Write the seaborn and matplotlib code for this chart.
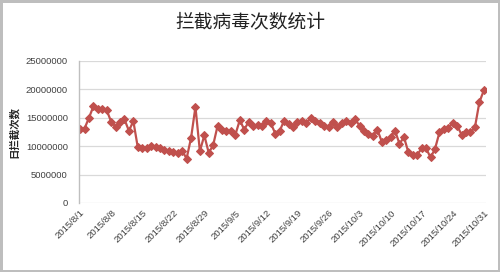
import matplotlib
matplotlib.use("Agg")
import matplotlib.pyplot as plt
import matplotlib.dates as mdates
from matplotlib.ticker import FuncFormatter
import seaborn as sns
import pandas as pd

title = "拦截病毒次数统计"
y_label = "日拦截次数"
start_date = "2015-08-01"
end_date = "2015-10-31"
counts = [
    13000000, 13100000, 15000000, 17000000, 16600000, 16500000, 16300000, 14300000,
    13400000, 14300000, 14700000, 12700000, 14400000, 9800000, 9700000, 9700000,
    10100000, 9800000, 9600000, 9400000, 9100000, 8900000, 8800000, 9200000,
    7800000, 11400000, 16900000, 9100000, 11900000, 8800000, 10200000, 13600000,
    12800000, 12700000, 12600000, 12000000, 14600000, 12900000, 14300000, 13600000,
    13700000, 13600000, 14500000, 14000000, 12200000, 12700000, 14500000, 13900000,
    13400000, 14300000, 14500000, 14100000, 14900000, 14500000, 14000000, 13600000,
    13400000, 14200000, 13400000, 14100000, 14500000, 14100000, 14700000, 13600000,
    12700000, 12200000, 11800000, 12900000, 10800000, 11000000, 11600000, 12700000,
    10400000, 11600000, 8900000, 8500000, 8500000, 9600000, 9600000, 8000000,
    9500000, 12400000, 13000000, 13200000, 14100000, 13600000, 12000000, 12400000,
    12400000, 13300000, 17700000, 19800000,
]
y_ticks = [0, 5000000, 10000000, 15000000, 20000000, 25000000]

dates = pd.date_range(start_date, end_date, freq="D")
df = pd.DataFrame({"date": dates, "count": counts})
tick_dates = pd.date_range(start_date, end_date, freq="7D")

sns.set_theme(style="white")
plt.rcParams["font.family"] = ["Liberation Sans", "Noto Sans CJK SC", "DejaVu Sans"]

fig = plt.figure(figsize=(5.0, 2.72), dpi=100, linewidth=2.5, edgecolor="#BEBEBE")
ax = fig.add_axes([0.158, 0.254, 0.814, 0.522])

line_color = "#C0504D"
sns.lineplot(data=df, x="date", y="count", ax=ax, color=line_color, linewidth=1.6,
             marker="D", markersize=3.8, markeredgecolor=line_color,
             markerfacecolor=line_color)

ax.set_ylim(0, 25000000)
ax.set_yticks(y_ticks)
ax.yaxis.set_major_formatter(FuncFormatter(lambda v, p: f"{int(v)}"))
ax.set_xlim(dates[0] - pd.Timedelta(hours=6), dates[-1] + pd.Timedelta(hours=12))
ax.set_xticks(tick_dates)
ax.set_xticklabels([f"{d.year}/{d.month}/{d.day}" for d in tick_dates],
                   rotation=45, ha="right", rotation_mode="anchor")
ax.grid(axis="y", color="#D9D9D9", linewidth=0.9)
ax.set_axisbelow(True)
for s in ["top", "right", "bottom"]:
    ax.spines[s].set_visible(False)
ax.spines["left"].set_color("#BFBFBF")
ax.spines["left"].set_linewidth(1.0)
ax.tick_params(axis="both", length=0, labelsize=6.8, colors="#404040")
ax.tick_params(axis="y", pad=8)
ax.tick_params(axis="x", pad=4)
ax.set_xlabel("")
ax.set_ylabel(y_label, fontsize=7.5, fontweight="bold", labelpad=6,
              family=["Noto Sans CJK SC", "DejaVu Sans"])
ax.yaxis.set_label_coords(-0.148, 0.5)

fig.text(0.5, 0.92, title, ha="center", va="center", fontsize=13.5,
         family=["Noto Sans CJK SC", "DejaVu Sans"], color="#222222")

fig.savefig("out.png", dpi=100, edgecolor=fig.get_edgecolor())
